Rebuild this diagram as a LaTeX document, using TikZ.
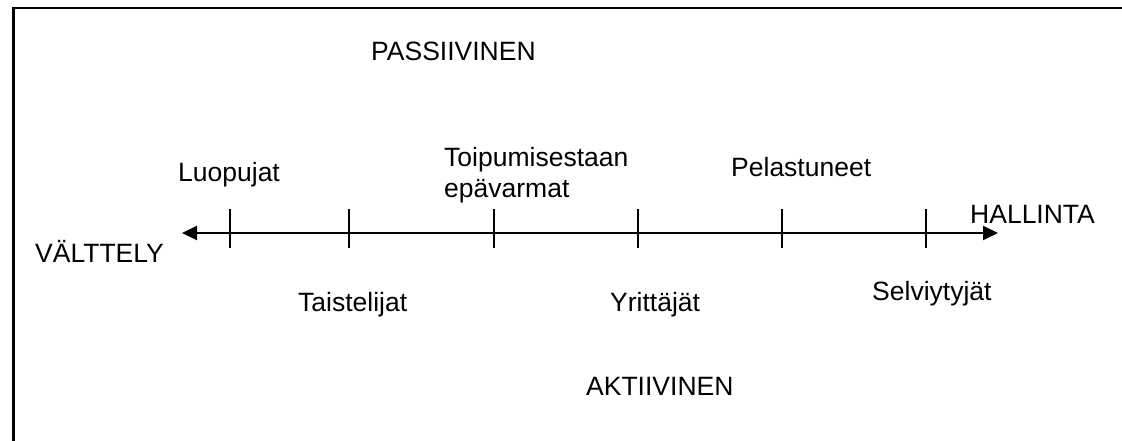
\documentclass[tikz,border=0pt]{standalone}
\usepackage{fontspec}
\setmainfont{Liberation Sans}
\usetikzlibrary{arrows.meta}
\begin{document}
\begin{tikzpicture}[x=1pt,y=-1pt,
  lbl/.style={anchor=base west,inner sep=0pt,font=\fontsize{26.5}{31}\selectfont},
  axisline/.style={line width=2pt,{Triangle[length=15pt,width=14pt]}-{Triangle[length=15pt,width=14pt]}},
  tick/.style={line width=2pt},
  frame/.style={line width=2.5pt}]
\useasboundingbox (0,0) rectangle (1122,441);
% frame (top and left only)
\coordinate (fbl) at (13.5,441);
\coordinate (ftl) at (13.5,8);
\coordinate (ftr) at (1122,8);
\draw[frame] (fbl) -- (ftl) -- (ftr);
% axis
\coordinate (al) at (182,233);
\coordinate (ar) at (998,233);
\draw[axisline] (al) -- (ar);
\foreach \n/\x in {1/230,2/349,3/494,4/638,5/782,6/926}{
  \coordinate (t\n a) at (\x,209);
  \coordinate (t\n b) at (\x,248);
  \draw[tick] (t\n a) -- (t\n b);
}
% labels
\node[lbl] (pass) at (371,61) {PASSIIVINEN};
\node[lbl] (akt) at (586,395) {AKTIIVINEN};
\node[lbl] (valt) at (35,262) {VÄLTTELY};
\node[lbl] (hall) at (970,223) {HALLINTA};
\node[lbl] (luop) at (178,182) {Luopujat};
\node[lbl,align=left] (toip) at (444,197) {Toipumisestaan\\epävarmat};
\node[lbl] (pela) at (731,177) {Pelastuneet};
\node[lbl] (tais) at (298,311) {Taistelijat};
\node[lbl] (yrit) at (610,311) {Yrittäjät};
\node[lbl] (selv) at (872,300) {Selviytyjät};
\end{tikzpicture}
\end{document}
